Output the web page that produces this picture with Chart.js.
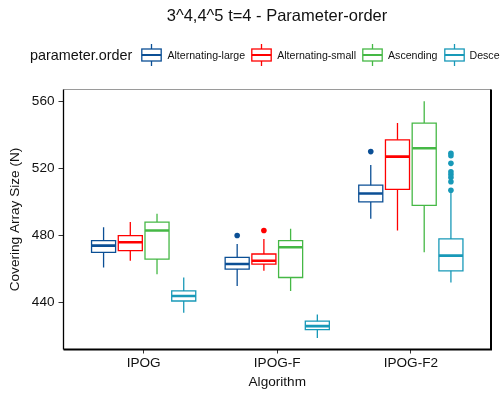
<!DOCTYPE html>
<html>
<head>
<meta charset="utf-8">
<script src="https://cdn.jsdelivr.net/npm/chart.js@4.4.1/dist/chart.umd.min.js"></script>
<style>
    html, body { margin: 0; padding: 0; background: #fff; }
    #wrap { position: relative; width: 500px; height: 400px; overflow: hidden; font-family: "Liberation Sans", Arial, sans-serif; color: #111; }
    #chart { position: absolute; left: 0; top: 0; }
    #title { position: absolute; left: 63px; width: 428px; top: 6px; text-align: center; font-size: 16.5px; line-height: 18px; white-space: nowrap; }
    #legend { position: absolute; left: 30px; top: 44px; height: 22px; display: flex; align-items: center; white-space: nowrap; }
    #legend .lg-title { font-size: 14.4px; margin-right: 9px; }
    #legend .lg-item { display: flex; align-items: center; margin-right: 6px; }
    #legend .lg-item svg { margin-right: 5px; }
    #legend .lg-item span { font-size: 10.6px; }
</style>
</head>
<body>
<div id="wrap">
    <canvas id="chart" width="500" height="400"></canvas>
    <div id="title">3^4,4^5 t=4 - Parameter-order</div>
    <div id="legend"><span class="lg-title">parameter.order</span></div>
</div>
<script>
const categories = ['IPOG', 'IPOG-F', 'IPOG-F2'];
const seriesNames = ['Alternating-large', 'Alternating-small', 'Ascending', 'Descending'];
const seriesColors = ['#0b4f95', '#ff0000', '#45b845', '#1899b8'];
const yTicks = [440, 480, 520, 560];

// [min, q1, median, q3, max] per algorithm
const altLarge = [[461, 470, 474, 477, 485], [450, 460, 463, 467, 475], [490, 500, 505, 510, 522]];
const altSmall = [[465, 471, 476, 480, 488], [459, 463, 465, 469, 478], [483, 507.5, 527, 537, 547]];
const ascending = [[457, 466, 483, 488, 493], [447, 455, 473, 477, 484], [470, 498, 532, 547, 560]];
const descending = [[434, 441, 444, 447, 455], [419, 424, 426, 429, 433], [452, 459, 468, 478, 506]];

// outliers per algorithm
const altLargeOut = [[], [480], [530]];
const altSmallOut = [[], [483], []];
const ascendingOut = [[], [], []];
const descendingOut = [[], [], [507, 512, 514.6, 516.4, 518, 523, 527.5, 529]];

const stats = [altLarge, altSmall, ascending, descending];
const outliers = [altLargeOut, altSmallOut, ascendingOut, descendingOut];

const DODGE = 0.2;
const HALF = 0.09;

function boxX(group, series) {
    return group + 1 + (series - 1.5) * DODGE;
}

function lineDataset(color, width, data) {
    return {
        type: 'line',
        data,
        borderColor: color,
        borderWidth: width,
        pointRadius: 0,
        fill: false,
        tension: 0,
        spanGaps: false,
        borderJoinStyle: 'miter',
    };
}

const datasets = [];
stats.forEach((groups, s) => {
    const color = seriesColors[s];
    const boxes = [];
    const whiskers = [];
    const medians = [];
    const points = [];

    groups.forEach(([min, q1, med, q3, max], g) => {
        const xc = boxX(g, s);
        const x0 = xc - HALF;
        const x1 = xc + HALF;
        boxes.push({ x: xc, y: q1 }, { x: x1, y: q1 }, { x: x1, y: q3 }, { x: x0, y: q3 },
            { x: x0, y: q1 }, { x: xc, y: q1 }, { x: xc, y: null });
        whiskers.push({ x: xc, y: q3 }, { x: xc, y: max }, { x: xc, y: null },
            { x: xc, y: q1 }, { x: xc, y: min }, { x: xc, y: null });
        medians.push({ x: x0, y: med }, { x: x1, y: med }, { x: xc, y: null });
        outliers[s][g].forEach((v) => points.push({ x: xc, y: v }));
    });

    datasets.push(lineDataset(color, 1.3, whiskers));
    datasets.push(lineDataset(color, 1.3, boxes));
    datasets.push(lineDataset(color, 2.6, medians));
    datasets.push({
        type: 'scatter',
        data: points,
        showLine: false,
        pointRadius: 2.8,
        pointBackgroundColor: color,
        pointBorderWidth: 0,
    });
});

const framePlugin = {
    id: 'frame',
    afterDatasetsDraw(chart) {
        const { ctx, chartArea: a } = chart;
        ctx.save();
        ctx.strokeStyle = '#9a9a9a';
        ctx.lineWidth = 1;
        ctx.beginPath();
        ctx.moveTo(a.left, a.top);
        ctx.lineTo(a.right, a.top);
        ctx.stroke();
        ctx.strokeStyle = '#000';
        ctx.lineWidth = 2;
        ctx.beginPath();
        ctx.moveTo(a.right, a.top);
        ctx.lineTo(a.right, a.bottom);
        ctx.lineTo(a.left, a.bottom);
        ctx.stroke();
        ctx.lineWidth = 1.3;
        ctx.beginPath();
        ctx.moveTo(a.left, a.top);
        ctx.lineTo(a.left, a.bottom);
        ctx.stroke();
        ctx.restore();
    },
};

const axisFont = { family: '"Liberation Sans", Arial, sans-serif', size: 13.6 };

new Chart(document.getElementById('chart'), {
    type: 'line',
    data: { datasets },
    options: {
        responsive: false,
        animation: false,
        events: [],
        layout: { padding: { top: 89.5, right: 9, left: 0, bottom: 0 } },
        plugins: { legend: { display: false }, tooltip: { enabled: false } },
        scales: {
            x: {
                type: 'linear',
                min: 0.4,
                max: 3.6,
                afterBuildTicks: (scale) => {
                    scale.ticks = categories.map((c, i) => ({ value: i + 1 }));
                },
                afterFit: (scale) => { scale.height = 50.5; },
                ticks: { color: '#111', font: axisFont, padding: 2, callback: (v) => categories[v - 1] },
                grid: { drawOnChartArea: false, tickLength: 4, color: '#333' },
                border: { display: false },
                title: { display: true, text: 'Algorithm', color: '#111', font: axisFont, padding: { bottom: 9.5 } },
            },
            y: {
                type: 'linear',
                min: 412.1,
                max: 567,
                afterBuildTicks: (scale) => {
                    scale.ticks = yTicks.map((v) => ({ value: v }));
                },
                afterFit: (scale) => { scale.width = 63.5; },
                ticks: { color: '#111', font: axisFont, padding: 4 },
                grid: { drawOnChartArea: false, tickLength: 5, color: '#333' },
                border: { display: false },
                title: { display: true, text: 'Covering Array Size (N)', color: '#111', font: axisFont, padding: { top: 7 } },
            },
        },
    },
    plugins: [framePlugin],
});

function legendIcon(color) {
    return `<svg width="21" height="22" viewBox="0 0 21 22">
        <line x1="10.5" y1="0" x2="10.5" y2="22" stroke="${color}" stroke-width="1.3"/>
        <rect x="0.8" y="5" width="19.4" height="12" fill="#fff" stroke="${color}" stroke-width="1.3"/>
        <line x1="0.8" y1="11" x2="20.2" y2="11" stroke="${color}" stroke-width="2"/>
    </svg>`;
}

const legendEl = document.getElementById('legend');
seriesNames.forEach((name, i) => {
    const item = document.createElement('div');
    item.className = 'lg-item';
    item.innerHTML = legendIcon(seriesColors[i]) + `<span>${name}</span>`;
    legendEl.appendChild(item);
});
</script>
</body>
</html>
